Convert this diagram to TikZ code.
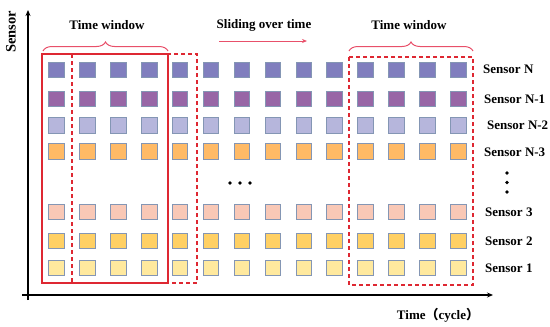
\documentclass[tikz,border=0pt]{standalone}
\usepackage{fontspec}
\setmainfont{Liberation Serif}
\newfontfamily\cjk{Noto Sans CJK SC}
\usetikzlibrary{decorations.pathreplacing,arrows.meta}
\definecolor{cN}{RGB}{128,126,190}
\definecolor{cNa}{RGB}{152,102,166}
\definecolor{cNb}{RGB}{182,182,220}
\definecolor{cNc}{RGB}{255,186,102}
\definecolor{cS3}{RGB}{249,200,182}
\definecolor{cS2}{RGB}{255,208,100}
\definecolor{cS1}{RGB}{255,233,158}
\definecolor{sqborder}{RGB}{132,150,180}
\definecolor{winred}{RGB}{222,40,50}
\definecolor{bracered}{RGB}{232,80,106}
\tikzset{
  cell/.style={draw=sqborder, line width=0.9pt, minimum size=15.5pt, inner sep=0pt, fill=#1},
  lbl/.style={font=\fontsize{13}{15}\selectfont\bfseries, anchor=west, inner sep=0pt},
  ttl/.style={font=\fontsize{13}{15}\selectfont\bfseries, inner sep=0pt},
  axis/.style={line width=1.4pt, -{Stealth[length=6pt,width=5pt]}},
  solidwin/.style={draw=winred, line width=1.1pt},
  dashwin/.style={draw=winred, line width=1.3pt, dash pattern=on 4pt off 3pt},
  brc/.style={draw=bracered, line width=1pt, decorate, decoration={brace, amplitude=9pt, aspect=0.5}},
  dotmark/.style={circle, fill=black, inner sep=0pt, minimum size=3.8pt}
}
\begin{document}
\begin{tikzpicture}[x=1pt,y=-1pt]
\useasboundingbox (0,0) rectangle (550,327);
% axes
\coordinate (yb) at (28,300);
\coordinate (yt) at (28,10);
\coordinate (xl) at (22,295);
\coordinate (xr) at (493,295);
\draw[axis] (yb) -- (yt);
\draw[axis] (xl) -- (xr);
\node[ttl, rotate=90] (ylab) at (11,32) {\fontsize{14.5}{16}\selectfont Sensor};
\node[ttl] (xlab) at (438,315) {Time{\cjk（}cycle{\cjk）}};
% squares
\foreach \r/\y/\c in {1/70/cN, 2/99/cNa, 3/125.5/cNb, 4/151.5/cNc, 5/211.7/cS3, 6/240.7/cS2, 7/267.7/cS1}{
  \foreach \k in {1,...,14}{
    \node[cell=\c] (s-\r-\k) at ({56.5+30.9*(\k-1)},\y) {};
  }
}
% windows
\draw[solidwin] (42,54) rectangle (168,283);
\draw[dashwin] (72,54) rectangle (197,283);
\draw[dashwin] (349,57) rectangle (473,285);
% braces
\draw[brc] (43,51) -- (168,51);
\draw[brc] (349,51) -- (473,51);
\node[ttl] (tw1) at (107,25) {Time window};
\node[ttl] (tw2) at (409,25) {Time window};
\node[ttl] (slide) at (264,25) {Sliding over time};
\coordinate (sa) at (219,41);
\coordinate (sb) at (307,41);
\draw[draw=bracered, line width=0.9pt, -{Stealth[length=5pt,width=4pt]}] (sa) -- (sb);
% labels
\node[lbl] (lN) at (483,69) {Sensor N};
\node[lbl] (lN1) at (484,99) {Sensor N-1};
\node[lbl] (lN2) at (487,125) {Sensor N-2};
\node[lbl] (lN3) at (484,152) {Sensor N-3};
\node[lbl] (l3) at (485,212) {Sensor 3};
\node[lbl] (l2) at (485,241) {Sensor 2};
\node[lbl] (l1) at (485,268) {Sensor 1};
% ellipses
\node[dotmark] (h1) at (230,183) {};
\node[dotmark] (h2) at (240,183) {};
\node[dotmark] (h3) at (250,183) {};
\node[dotmark] (v1) at (507,173) {};
\node[dotmark] (v2) at (507,182.5) {};
\node[dotmark] (v3) at (507,192) {};
\end{tikzpicture}
\end{document}
